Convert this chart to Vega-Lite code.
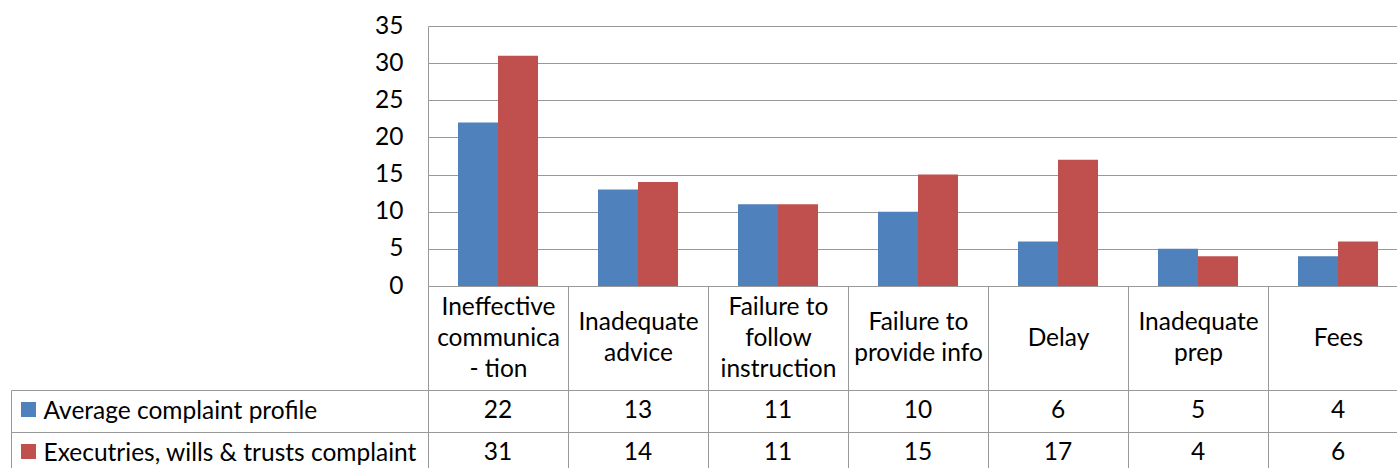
{
  "$schema": "https://vega.github.io/schema/vega-lite/v6.json",
  "padding": {"left": 10, "top": 13, "right": 0, "bottom": 0},
  "bounds": "flush",
  "spacing": 104,
  "background": "white",
  "datasets": {
    "complaints": [
      {"category": "Ineffective\ncommunica\n- tion", "series": "Average complaint profile", "value": 22},
      {"category": "Ineffective\ncommunica\n- tion", "series": "Executries, wills & trusts complaint", "value": 31},
      {"category": "Inadequate\nadvice", "series": "Average complaint profile", "value": 13},
      {"category": "Inadequate\nadvice", "series": "Executries, wills & trusts complaint", "value": 14},
      {"category": "Failure to\nfollow\ninstruction", "series": "Average complaint profile", "value": 11},
      {"category": "Failure to\nfollow\ninstruction", "series": "Executries, wills & trusts complaint", "value": 11},
      {"category": "Failure to\nprovide info", "series": "Average complaint profile", "value": 10},
      {"category": "Failure to\nprovide info", "series": "Executries, wills & trusts complaint", "value": 15},
      {"category": "Delay", "series": "Average complaint profile", "value": 6},
      {"category": "Delay", "series": "Executries, wills & trusts complaint", "value": 17},
      {"category": "Inadequate\nprep", "series": "Average complaint profile", "value": 5},
      {"category": "Inadequate\nprep", "series": "Executries, wills & trusts complaint", "value": 4},
      {"category": "Fees", "series": "Average complaint profile", "value": 4},
      {"category": "Fees", "series": "Executries, wills & trusts complaint", "value": 6}
    ]
  },
  "config": {
    "view": {"stroke": null},
    "font": "Lato",
    "axis": {"labelFont": "Lato", "labelColor": "black", "labelFontSize": 24.5, "title": null}
  },
  "vconcat": [
    {
      "width": 980,
      "height": 260,
      "data": {"name": "complaints"},
      "mark": {"type": "bar"},
      "encoding": {
        "x": {
          "field": "category", "type": "nominal", "sort": null,
          "scale": {"paddingInner": 0, "paddingOuter": 0},
          "axis": {
            "labelExpr": "isValid(datum.value) ? split(datum.value, '\\n') : ''",
            "labelAngle": 0, "labelLineHeight": 31,
            "labelBaseline": {
              "condition": [
                {"test": "isValid(datum.value) && length(split(datum.value, '\\n')) == 3", "value": "line-bottom"},
                {"test": "isValid(datum.value) && length(split(datum.value, '\\n')) == 1", "value": "line-top"}
              ],
              "value": "middle"
            },
            "labelPadding": -67.5, "labelLimit": 0,
            "tickBand": "extent", "tickSize": 104, "tickColor": "#999999",
            "domainColor": "#999999"
          }
        },
        "xOffset": {
          "field": "series", "type": "nominal", "sort": null,
          "scale": {"paddingInner": 0, "paddingOuter": 0.75}
        },
        "y": {
          "field": "value", "type": "quantitative",
          "scale": {"domain": [0, 35], "nice": false},
          "axis": {
            "values": [0, 5, 10, 15, 20, 25, 30, 35],
            "grid": true, "gridColor": "#999999", "ticks": false,
            "labelPadding": 25, "domainColor": "#999999"
          }
        },
        "color": {
          "field": "series", "type": "nominal", "sort": null,
          "scale": {"range": ["#4F81BD", "#C0504D"]},
          "legend": {
            "orient": "none", "legendX": -407, "legendY": 376,
            "title": null, "symbolType": "square", "symbolSize": 225,
            "symbolStrokeWidth": 0, "labelExpr": "''", "rowPadding": 27,
            "padding": 0
          }
        }
      }
    },
    {
      "width": 980,
      "height": 84,
      "data": {"name": "complaints"},
      "mark": {"type": "text", "fontSize": 24.5, "color": "black", "font": "Lato"},
      "encoding": {
        "x": {
          "field": "category", "type": "nominal", "sort": null,
          "scale": {"paddingInner": 0, "paddingOuter": 0},
          "axis": {
            "orient": "top", "labels": false, "ticks": false, "domain": false,
            "grid": true, "gridColor": "#999999", "tickBand": "extent"
          }
        },
        "y": {
          "field": "series", "type": "nominal", "sort": null,
          "scale": {"paddingInner": 0, "paddingOuter": 0},
          "axis": {
            "offset": 417, "domain": true, "domainColor": "#999999",
            "grid": true, "gridColor": "#999999", "tickBand": "extent",
            "ticks": true, "tickSize": -417, "tickColor": "#999999",
            "labelAlign": "left", "labelPadding": 385,
            "labelLimit": 0
          }
        },
        "text": {"field": "value", "type": "quantitative"}
      }
    }
  ]
}
